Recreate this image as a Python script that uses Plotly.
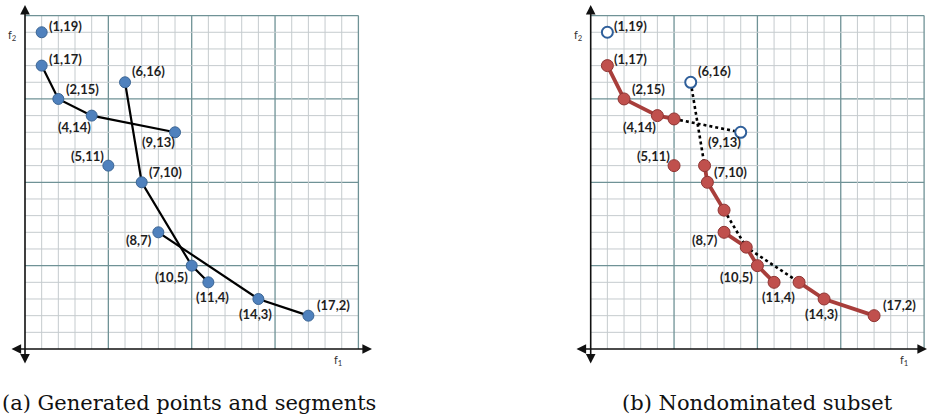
import plotly.graph_objects as go

# ---------------- data ----------------
# generated points (f1, f2)
pt_f1 = [1, 1, 2, 4, 9, 5, 6, 7, 8, 10, 11, 14, 17]
pt_f2 = [19, 17, 15, 14, 13, 11, 16, 10, 7, 5, 4, 3, 2]
pt_labels = ["(1,19)", "(1,17)", "(2,15)", "(4,14)", "(9,13)", "(5,11)", "(6,16)",
             "(7,10)", "(8,7)", "(10,5)", "(11,4)", "(14,3)", "(17,2)"]

# generated segments (panel a)
seg1_f1 = [1, 2, 4, 9]
seg1_f2 = [17, 15, 14, 13]
seg2_f1 = [6, 7, 10, 11]
seg2_f2 = [16, 10, 5, 4]
seg3_f1 = [8, 14, 17]
seg3_f2 = [7, 3, 2]

# nondominated pieces (panel b)
nd1_f1 = [1, 2, 4, 5]
nd1_f2 = [17, 15, 14, 13.8]
nd2_f1 = [6.83, 7, 8]
nd2_f2 = [11, 10, 8.33]
nd3_f1 = [8, 9.33, 10, 11]
nd3_f2 = [7, 6.11, 5, 4]
nd4_f1 = [12.5, 14, 17]
nd4_f2 = [4, 3, 2]
nd_iso_f1 = [5]
nd_iso_f2 = [11]

# dominated pieces (dotted)
dom1_f1 = [5, 9]
dom1_f2 = [13.8, 13]
dom2_f1 = [6, 6.83]
dom2_f2 = [16, 11]
dom3_f1 = [8, 9.33, 12.5]
dom3_f2 = [8.33, 6.11, 4]

# dominated points (open circles)
open_f1 = [1, 6, 9]
open_f2 = [19, 16, 13]

captions = ["(a) Generated points and segments", "(b) Nondominated subset"]

# ---------------- styling ----------------
W, H = 930, 419
UNIT = 16.67
BLUE = "#4F81BD"
BLUE_EDGE = "#3B6594"
RED = "#C0504D"
RED_EDGE = "#8E3533"
RED_LINE = "#A83E3B"
MINOR = "#C5CBCE"
MAJOR = "#6F9296"
LABEL_FONT = dict(family="Lato", size=13, color="#1E1E1E")

# label placement style: (xanchor, xshift, yshift)
label_style = {
    "(1,19)": ("left", 5, 6), "(1,17)": ("left", 5, 7), "(2,15)": ("left", 6, 10),
    "(4,14)": ("right", 1, -11), "(9,13)": ("right", 2, -10), "(5,11)": ("right", -2, 10),
    "(6,16)": ("left", 5, 11), "(7,10)": ("left", 5, 10), "(8,7)": ("right", -4, -8),
    "(10,5)": ("right", -2, -11), "(11,4)": ("center", 4, -15), "(14,3)": ("center", -3, -15),
    "(17,2)": ("left", 7, 11),
}

# panel pixel geometry: origin pixel (x0) for each panel
panels = [
    dict(x0=25.0, px_left=0, px_right=380, arrow_l=10, arrow_r=372, xa="x", ya="y"),
    dict(x0=590.7, px_left=560, px_right=930, arrow_l=575, arrow_r=927, xa="x2", ya="y2"),
]
Y0 = 349.0   # pixel of f2 = 0
TOP_PX, BOT_PX = 0, 370

fig = go.Figure()
shapes = []
annotations = []

for i, p in enumerate(panels):
    xa, ya = p["xa"], p["ya"]
    # grid
    for k in range(1, 21):
        col = MAJOR if k % 5 == 0 else MINOR
        wid = 1.3 if k % 5 == 0 else 1
        shapes.append(dict(type="line", xref=xa, yref=ya, x0=k, x1=k, y0=0, y1=20,
                           line=dict(color=col, width=wid), layer="below"))
        shapes.append(dict(type="line", xref=xa, yref=ya, x0=0, x1=20, y0=k, y1=k,
                           line=dict(color=col, width=wid), layer="below"))
    # axes with arrows at both ends
    xl = (p["arrow_l"] - p["x0"]) / UNIT
    xr = (p["arrow_r"] - p["x0"]) / UNIT
    annotations.append(dict(xref=xa, yref=ya, axref=xa, ayref=ya, x=xr, y=0, ax=xl, ay=0,
                            showarrow=True, arrowside="end+start", arrowhead=2,
                            arrowsize=1.2, arrowwidth=1.6, arrowcolor="#111111", text=""))
    yt = (Y0 - 5) / UNIT
    yb = (Y0 - 365) / UNIT
    annotations.append(dict(xref=xa, yref=ya, axref=xa, ayref=ya, x=0, y=yt, ax=0, ay=yb,
                            showarrow=True, arrowside="end+start", arrowhead=2,
                            arrowsize=1.2, arrowwidth=1.6, arrowcolor="#111111", text=""))
    # axis names
    annotations.append(dict(xref=xa, yref=ya, x=-0.74, y=18.8, text="f<sub>2</sub>",
                            showarrow=False, font=dict(family="Lato", size=11, color="#333333")))
    annotations.append(dict(xref=xa, yref=ya, x=18.8, y=-0.68, text="f<sub>1</sub>",
                            showarrow=False, font=dict(family="Lato", size=11, color="#333333")))
    # point labels
    for fx, fy, lab in zip(pt_f1, pt_f2, pt_labels):
        anc, xs, ys = label_style[lab]
        annotations.append(dict(xref=xa, yref=ya, x=fx, y=fy, text="<b>" + lab + "</b>",
                                showarrow=False, xanchor=anc, yanchor="middle",
                                xshift=xs, yshift=ys, font=LABEL_FONT))

# ----- panel (a) -----
for sx, sy in [(seg1_f1, seg1_f2), (seg2_f1, seg2_f2), (seg3_f1, seg3_f2)]:
    fig.add_trace(go.Scatter(x=sx, y=sy, mode="lines", line=dict(color="#000000", width=2.2),
                             xaxis="x", yaxis="y", hoverinfo="skip"))
fig.add_trace(go.Scatter(x=pt_f1, y=pt_f2, mode="markers",
                         marker=dict(size=11, color=BLUE, line=dict(color=BLUE_EDGE, width=1)),
                         xaxis="x", yaxis="y"))

# ----- panel (b) -----
for sx, sy in [(dom1_f1, dom1_f2), (dom2_f1, dom2_f2), (dom3_f1, dom3_f2)]:
    fig.add_trace(go.Scatter(x=sx, y=sy, mode="lines",
                             line=dict(color="#000000", width=2.6, dash="dot"),
                             xaxis="x2", yaxis="y2", hoverinfo="skip"))
for sx, sy in [(nd1_f1, nd1_f2), (nd2_f1, nd2_f2), (nd3_f1, nd3_f2), (nd4_f1, nd4_f2),
               (nd_iso_f1, nd_iso_f2)]:
    fig.add_trace(go.Scatter(x=sx, y=sy, mode="lines+markers",
                             line=dict(color=RED_LINE, width=3.8),
                             marker=dict(size=12, color=RED, line=dict(color=RED_EDGE, width=1)),
                             xaxis="x2", yaxis="y2"))
fig.add_trace(go.Scatter(x=open_f1, y=open_f2, mode="markers",
                         marker=dict(size=11, color="#FFFFFF", line=dict(color="#2F5F9A", width=2)),
                         xaxis="x2", yaxis="y2"))

# captions
CAP_FONT = dict(family="DejaVu Serif", size=21, color="#111111")
annotations.append(dict(xref="paper", yref="paper", x=0 / W, y=1 - 403 / H, text=captions[0],
                        xanchor="left", yanchor="middle", showarrow=False, font=CAP_FONT))
annotations.append(dict(xref="paper", yref="paper", x=620 / W, y=1 - 403 / H, text=captions[1],
                        xanchor="left", yanchor="middle", showarrow=False, font=CAP_FONT))

ydom = [1 - BOT_PX / H, 1 - TOP_PX / H]
yrange = [(Y0 - BOT_PX) / UNIT, (Y0 - TOP_PX) / UNIT]
axis_common = dict(showgrid=False, zeroline=False, showticklabels=False, showline=False,
                   ticks="", fixedrange=True)
layout = dict(
    width=W, height=H, margin=dict(l=0, r=0, t=0, b=0),
    paper_bgcolor="white", plot_bgcolor="rgba(0,0,0,0)", showlegend=False,
    shapes=shapes, annotations=annotations,
)
for i, p in enumerate(panels):
    suffix = "" if i == 0 else "2"
    layout["xaxis" + suffix] = dict(axis_common, domain=[p["px_left"] / W, p["px_right"] / W],
                                    range=[(p["px_left"] - p["x0"]) / UNIT,
                                           (p["px_right"] - p["x0"]) / UNIT],
                                    anchor="y" + suffix)
    layout["yaxis" + suffix] = dict(axis_common, domain=ydom, range=yrange,
                                    anchor="x" + suffix)
fig.update_layout(**layout)
fig.write_html("out.html")
